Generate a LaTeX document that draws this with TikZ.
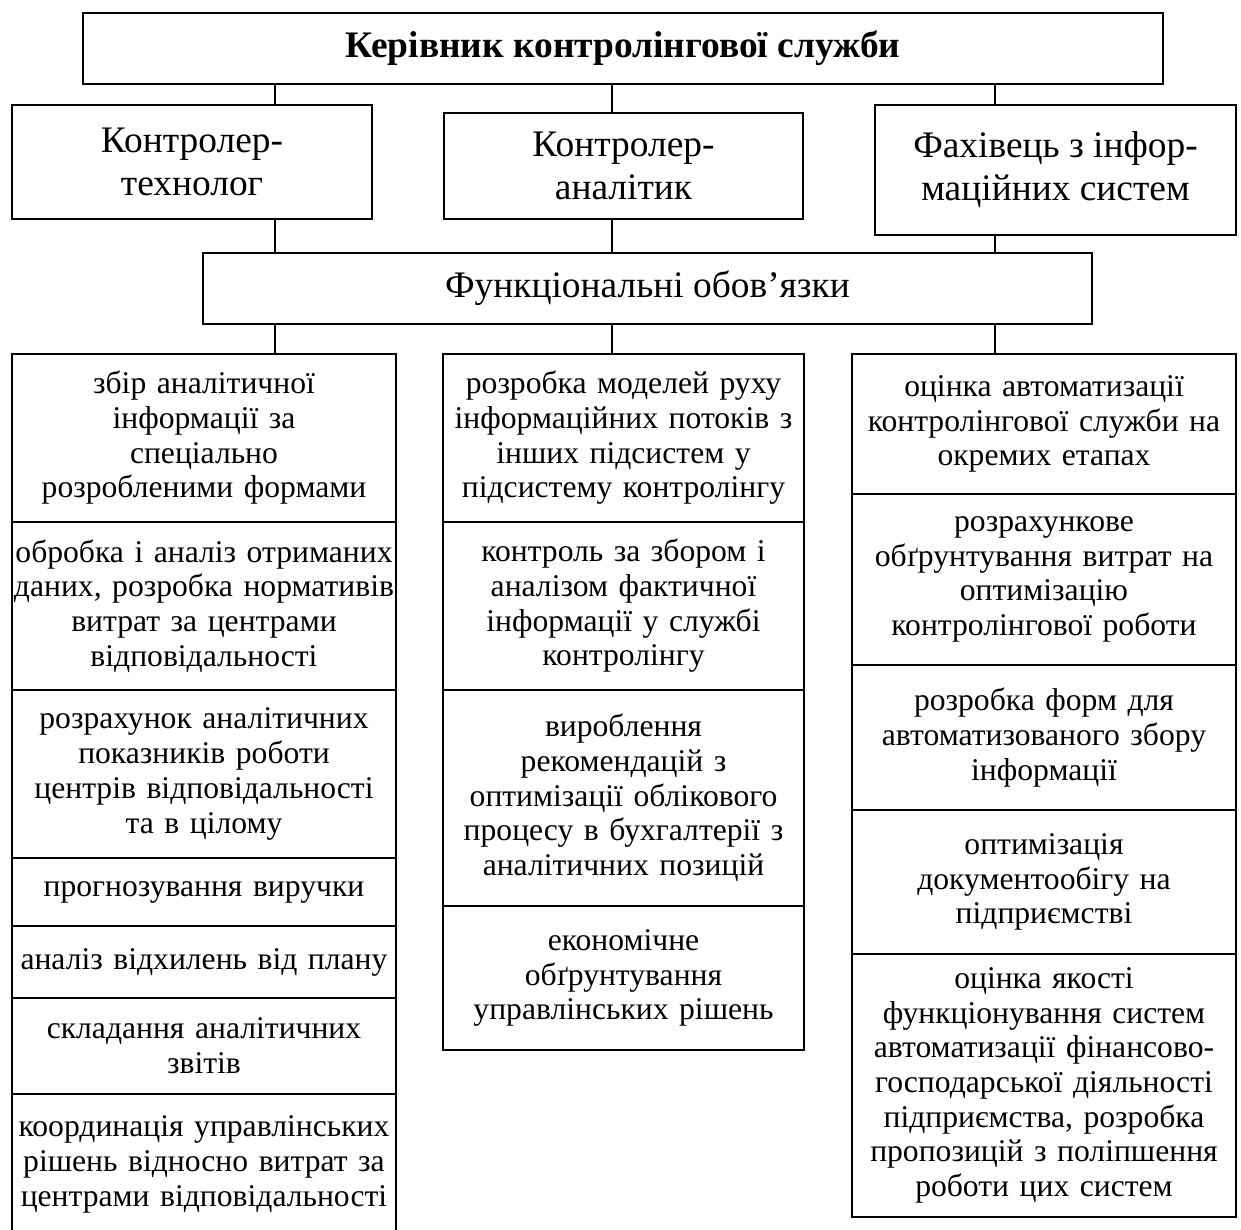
\documentclass[tikz,border=0pt]{standalone}
\usepackage{fontspec}
\setmainfont{Liberation Serif}
\newlength{\px}
\setlength{\px}{0.02cm}
\newcommand{\cellsize}{\fontsize{18pt}{19.75pt}\selectfont}
\newcommand{\headsize}{\fontsize{21.3pt}{24.5pt}\selectfont}
\tikzset{
  box/.style={draw, line width=1.1pt, inner sep=0pt, align=center, font=\headsize},
  cell/.style={draw, line width=1.1pt, inner sep=0pt, align=center, anchor=north, font=\cellsize},
  link/.style={line width=1.1pt}
}
\begin{document}
\begin{tikzpicture}[x=0.02cm, y=-0.02cm]
\useasboundingbox (0,0) rectangle (1241,1230);
\node[box, minimum width=1080\px, minimum height=71\px, font=\headsize\bfseries] (top) at (623,48.5) {Керівник контролінгової служби};
\node[box, minimum width=360\px, minimum height=114\px] (tech) at (192,162) {Контролер-\\технолог};
\node[box, minimum width=359\px, minimum height=106\px] (anal) at (623.5,166) {Контролер-\\аналітик};
\node[box, minimum width=361\px, minimum height=130\px] (info) at (1055.5,170) {Фахівець з інфор-\\маційних систем};
\node[box, minimum width=889\px, minimum height=71\px] (duty) at (647.5,288.5) {Функціональні обов’язки};
\node[cell, text width=384\px, minimum height=168\px] (a1) at (204,353) {збір аналітичної\\інформації за\\спеціально\\розробленими формами};
\node[cell, text width=384\px, minimum height=168\px] (a2) at (204,521) {обробка і аналіз отриманих\\даних, розробка нормативів\\витрат за центрами\\відповідальності};
\node[cell, text width=384\px, minimum height=168\px] (a3) at (204,689) {розрахунок аналітичних\\показників роботи\\центрів відповідальності\\та в цілому};
\node[cell, text width=384\px, minimum height=68\px] (a4) at (204,857) {прогнозування виручки};
\node[cell, text width=384\px, minimum height=72\px] (a5) at (204,925) {аналіз відхилень від плану};
\node[cell, text width=384\px, minimum height=96\px] (a6) at (204,997) {складання аналітичних\\звітів};
\node[cell, text width=384\px, minimum height=141\px] (a7) at (204,1093) {координація управлінських\\рішень відносно витрат за\\центрами відповідальності};
\node[cell, text width=361\px, minimum height=168\px] (b1) at (623.5,353) {розробка моделей руху\\інформаційних потоків з\\інших підсистем у\\підсистему контролінгу};
\node[cell, text width=361\px, minimum height=168\px] (b2) at (623.5,521) {контроль за збором і\\аналізом фактичної\\інформації у службі\\контролінгу};
\node[cell, text width=361\px, minimum height=216\px] (b3) at (623.5,689) {вироблення\\рекомендацій з\\оптимізації облікового\\процесу в бухгалтерії з\\аналітичних позицій};
\node[cell, text width=361\px, minimum height=144\px] (b4) at (623.5,905) {економічне\\обґрунтування\\управлінських рішень};
\node[cell, text width=384\px, minimum height=140\px] (c1) at (1044,353) {оцінка автоматизації\\контролінгової служби на\\окремих етапах};
\node[cell, text width=384\px, minimum height=171\px] (c2) at (1044,493) {розрахункове\\обґрунтування витрат на\\оптимізацію\\контролінгової роботи};
\node[cell, text width=384\px, minimum height=145\px] (c3) at (1044,664) {розробка форм для\\автоматизованого збору\\інформації};
\node[cell, text width=384\px, minimum height=144\px] (c4) at (1044,809) {оптимізація\\документообігу на\\підприємстві};
\node[cell, text width=384\px, minimum height=263\px] (c5) at (1044,953) {оцінка якості\\функціонування систем\\автоматизації фінансово-\\господарської діяльності\\підприємства, розробка\\пропозицій з поліпшення\\роботи цих систем};
\coordinate (l1) at (275,0);
\coordinate (l2) at (612,0);
\coordinate (l3) at (995,0);
\draw[link] (l1 |- top.south)--(l1 |- tech.north);
\draw[link] (l2 |- top.south)--(l2 |- anal.north);
\draw[link] (l3 |- top.south)--(l3 |- info.north);
\draw[link] (l1 |- tech.south)--(l1 |- duty.north);
\draw[link] (l2 |- anal.south)--(l2 |- duty.north);
\draw[link] (l3 |- info.south)--(l3 |- duty.north);
\draw[link] (l1 |- duty.south)--(l1 |- a1.north);
\draw[link] (l2 |- duty.south)--(l2 |- b1.north);
\draw[link] (l3 |- duty.south)--(l3 |- c1.north);
\end{tikzpicture}
\end{document}
